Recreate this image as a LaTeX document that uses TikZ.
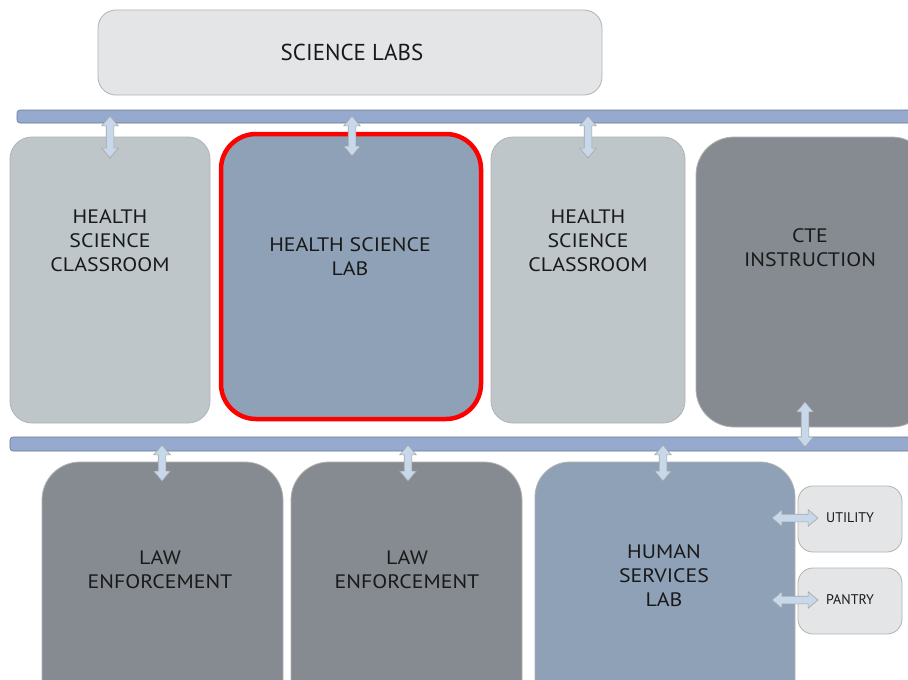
\documentclass[tikz,border=0pt]{standalone}
\usepackage{fontspec}
\setmainfont{PT Sans}
\newfontfamily\roomfont[FakeStretch=1.12]{PT Sans}
\usetikzlibrary{shapes.arrows}
\definecolor{paleroom}{HTML}{E4E5E7}
\definecolor{classroom}{HTML}{BFC6CA}
\definecolor{labroom}{HTML}{8EA1B6}
\definecolor{darkroom}{HTML}{868B92}
\definecolor{hallbar}{HTML}{95AACE}
\definecolor{arrowfill}{HTML}{C6D8E9}
\begin{document}
\begin{tikzpicture}[x=1pt, y=-1pt,
    room/.style={rectangle, draw=gray!60, line width=0.8pt, rounded corners=#1, inner sep=0pt},
    room/.default=30pt,
    hall/.style={rectangle, draw=hallbar!70!black, fill=hallbar, line width=0.6pt, rounded corners=3pt, inner sep=0pt},
    lbl/.style={align=center, font=\roomfont\fontsize{19.5}{24}\selectfont, text=black!90},
    door/.style={double arrow, draw=gray!70, fill=arrowfill, line width=0.6pt, inner xsep=0pt, inner ysep=3.5pt,
        double arrow head extend=4.5pt, double arrow tip angle=80}
]
\clip (0,0) rectangle (908,680);
\fill[white] (0,0) rectangle (908,680);

% top block
\node[room=18pt, fill=paleroom, minimum width=504pt, minimum height=85pt] (sci) at (350,52.5) {};
\node[lbl, font=\fontsize{23}{26}\selectfont] (scitxt) at (352,52) {SCIENCE LABS};

% upper hallway and rooms
\node[hall, minimum width=903pt, minimum height=13pt] (tophall) at (468.5,116.5) {};
\node[room=22pt, fill=classroom, minimum width=200pt, minimum height=286pt] (hsc1) at (110,280) {};
\node[room=35pt, fill=labroom, draw=red, line width=4.5pt, minimum width=260pt, minimum height=285pt] (hsl) at (351,276.5) {};
\node[room=22pt, fill=classroom, minimum width=194pt, minimum height=286pt] (hsc2) at (588,280) {};
\node[room=38pt, fill=darkroom, minimum width=234pt, minimum height=290pt] (cte) at (813,282) {};

\node[lbl] (hsc1txt) at (110,241) {HEALTH\\SCIENCE\\CLASSROOM};
\node[lbl] (hsltxt) at (350,257) {HEALTH SCIENCE\\LAB};
\node[lbl] (hsc2txt) at (588,241) {HEALTH\\SCIENCE\\CLASSROOM};
\node[lbl] (ctetxt) at (810,247.5) {CTE\\INSTRUCTION};

% lower hallway and rooms
\node[hall, minimum width=910pt, minimum height=14pt] (lowhall) at (465,444) {};
\node[room=38pt, fill=darkroom, minimum width=241pt, minimum height=258pt] (law1) at (162.5,591) {};
\node[room=38pt, fill=darkroom, minimum width=231pt, minimum height=258pt] (law2) at (406.5,591) {};
\node[room=35pt, fill=labroom, minimum width=260pt, minimum height=258pt] (human) at (665,591) {};
\node[room=15pt, fill=paleroom, minimum width=104pt, minimum height=66pt] (utility) at (850,519) {};
\node[room=15pt, fill=paleroom, minimum width=104pt, minimum height=66pt] (pantry) at (850,601) {};

\node[lbl] (law1txt) at (160,569.5) {LAW\\ENFORCEMENT};
\node[lbl] (law2txt) at (407,569.5) {LAW\\ENFORCEMENT};
\node[lbl] (humantxt) at (664,576) {HUMAN\\SERVICES\\LAB};
\node[lbl, font=\fontsize{14}{16}\selectfont] (utiltxt) at (850,518) {UTILITY};
\node[lbl, font=\fontsize{14}{16}\selectfont] (pantrytxt) at (850,600) {PANTRY};

% doors
\node[door, rotate=90, minimum height=42pt] (d1) at (110,137) {};
\node[door, rotate=90, minimum height=40pt] (d2) at (352,136) {};
\node[door, rotate=90, minimum height=42pt] (d3) at (588,137) {};
\node[door, rotate=90, minimum height=45pt] (d4) at (805,424.5) {};
\node[door, rotate=90, minimum height=36pt] (d5) at (162,463) {};
\node[door, rotate=90, minimum height=36pt] (d6) at (408,463) {};
\node[door, rotate=90, minimum height=36pt] (d7) at (663,463) {};
\node[door, minimum height=46pt] (d8) at (795,518) {};
\node[door, minimum height=46pt] (d9) at (795,600) {};
\end{tikzpicture}
\end{document}
